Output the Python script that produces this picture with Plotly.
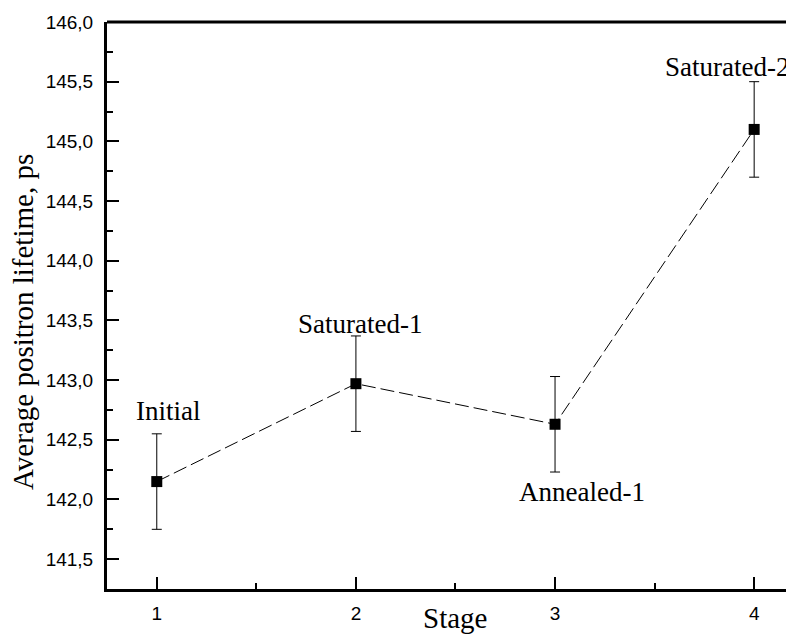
import plotly.graph_objects as go

stages = [1, 2, 3, 4]
lifetime = [142.15, 142.97, 142.63, 145.10]
errors = [0.40, 0.40, 0.40, 0.40]
labels = ["Initial", "Saturated-1", "Annealed-1", "Saturated-2"]
label_x = [1.055, 2.02, 3.133, 3.865]
label_y = [142.74, 143.47, 142.06, 145.62]

fig = go.Figure()
fig.add_trace(go.Scatter(
    x=stages, y=lifetime,
    mode="lines+markers",
    line=dict(color="black", width=1, dash="14px,5px"),
    marker=dict(symbol="square", size=11, color="black"),
    error_y=dict(type="data", array=errors, visible=True, color="black", thickness=1, width=5),
    showlegend=False,
))

for x, y, t in zip(label_x, label_y, labels):
    fig.add_annotation(x=x, y=y, text=t, showarrow=False,
                       font=dict(family="Liberation Serif", size=27, color="black"))

fig.add_annotation(x=0.5066, xref="paper", y=-0.0811, yref="paper", yanchor="bottom",
                   text="Stage", showarrow=False, borderpad=0,
                   font=dict(family="Liberation Serif", size=29, color="black"))

fig.add_annotation(x=-0.1223, xref="paper", y=0.471, yref="paper",
                   xanchor="center", yanchor="middle", textangle=-90,
                   text="Average positron lifetime, ps", showarrow=False,
                   font=dict(family="Liberation Serif", size=29, color="black"))

fig.update_layout(
    width=786, height=627,
    margin=dict(l=99, r=0, t=14, b=46),
    paper_bgcolor="white", plot_bgcolor="white",
    separators=", ",
    xaxis=dict(
        range=[0.75, 4.2], tickvals=[1, 2, 3, 4], ticktext=["1", "2", "3", "4"],
        ticks="inside", ticklen=12, tickwidth=2, tickcolor="black",
        minor=dict(tickvals=[1.5, 2.5, 3.5], ticks="inside", ticklen=6, tickwidth=2, tickcolor="black"),
        showline=True, linewidth=3, linecolor="black", mirror=False,
        showgrid=False, zeroline=False, ticklabelstandoff=5,
        tickfont=dict(family="Liberation Sans", size=19, color="black"),
    ),
    yaxis=dict(
        range=[141.25, 146.0], dtick=0.5, tick0=141.5, tickformat=".1f",
        ticks="inside", ticklen=12, tickwidth=2, tickcolor="black",
        minor=dict(dtick=0.25, ticks="inside", ticklen=6, tickwidth=2, tickcolor="black"),
        showline=True, linewidth=3, linecolor="black",
        showgrid=False, zeroline=False, ticklabelstandoff=7,
        tickfont=dict(family="Liberation Sans", size=19, color="black"),
    ),
)
fig.add_shape(type="line", xref="paper", yref="paper", x0=0, x1=1, y0=1, y1=1,
              line=dict(color="black", width=3))

fig.write_html("out.html")
